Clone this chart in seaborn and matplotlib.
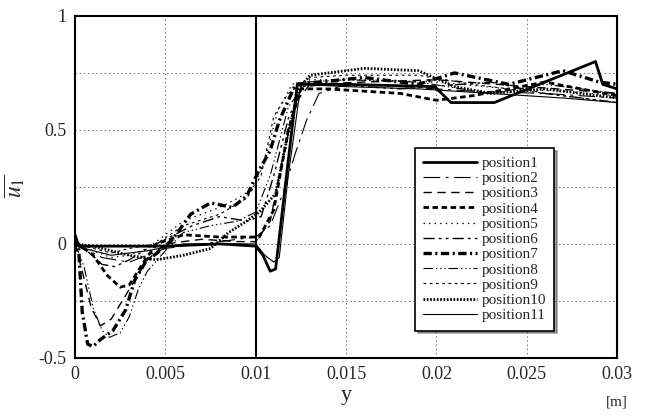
import numpy as np
import pandas as pd
import seaborn as sns
import matplotlib
matplotlib.use("Agg")
from matplotlib import pyplot as plt

# values (y in m, u1 normalised)
x1 = [0, 0.0002, 0.001, 0.003, 0.005, 0.008, 0.0100, 0.0104, 0.0108, 0.0111, 0.0117, 0.0123, 0.015, 0.0199, 0.0208, 0.0232, 0.0288, 0.0292, 0.03]
y1 = [0.04, -0.01, -0.01, -0.01, -0.01, 0.0, -0.01, -0.05, -0.12, -0.11, 0.30, 0.70, 0.70, 0.69, 0.62, 0.62, 0.80, 0.70, 0.68]

x2 = [0, 0.0005, 0.0015, 0.003, 0.005, 0.007, 0.009, 0.010, 0.0108, 0.0115, 0.0122, 0.0128, 0.0135, 0.015, 0.018, 0.022, 0.026, 0.03]
y2 = [0.02, -0.02, -0.06, -0.08, -0.02, 0.0, 0.02, 0.03, 0.08, 0.22, 0.40, 0.54, 0.66, 0.70, 0.69, 0.67, 0.66, 0.64]

x3 = [0, 0.0004, 0.0009, 0.0014, 0.002, 0.003, 0.004, 0.005, 0.007, 0.009, 0.010, 0.0108, 0.0115, 0.0122, 0.013, 0.016, 0.020, 0.025, 0.03]
y3 = [0.0, -0.12, -0.28, -0.36, -0.33, -0.2, -0.07, 0.0, 0.02, 0.01, 0.01, 0.1, 0.38, 0.62, 0.70, 0.71, 0.72, 0.69, 0.66]

x4 = [0, 0.0005, 0.001, 0.0018, 0.0025, 0.003, 0.0038, 0.0045, 0.006, 0.008, 0.0095, 0.0102, 0.011, 0.0118, 0.0125, 0.014, 0.018, 0.020, 0.022, 0.026, 0.028, 0.03]
y4 = [0.0, -0.02, -0.05, -0.14, -0.19, -0.18, -0.08, 0.0, 0.04, 0.03, 0.03, 0.03, 0.15, 0.5, 0.68, 0.68, 0.66, 0.63, 0.65, 0.71, 0.68, 0.65]

x5 = [0, 0.001, 0.002, 0.003, 0.004, 0.005, 0.006, 0.007, 0.008, 0.009, 0.0098, 0.0105, 0.0112, 0.012, 0.013, 0.016, 0.020, 0.024, 0.027, 0.03]
y5 = [0.0, -0.03, -0.06, -0.05, -0.02, 0.04, 0.10, 0.13, 0.16, 0.2, 0.24, 0.36, 0.58, 0.70, 0.72, 0.72, 0.71, 0.68, 0.67, 0.65]

x6 = [0, 0.0008, 0.0015, 0.0022, 0.003, 0.004, 0.005, 0.0065, 0.008, 0.0095, 0.0103, 0.011, 0.0118, 0.0126, 0.014, 0.018, 0.023, 0.026, 0.03]
y6 = [0.0, -0.04, -0.09, -0.1, -0.07, -0.02, 0.02, 0.08, 0.12, 0.1, 0.12, 0.3, 0.55, 0.69, 0.70, 0.68, 0.71, 0.66, 0.62]

x7 = [0, 0.0002, 0.0004, 0.0007, 0.001, 0.0014, 0.0021, 0.0028, 0.0033, 0.0039, 0.0047, 0.0054, 0.0064, 0.0075, 0.0087, 0.0095, 0.0101, 0.0108, 0.0113, 0.0122, 0.016, 0.019, 0.021, 0.024, 0.027, 0.029, 0.03]
y7 = [0.03, -0.02, -0.3, -0.44, -0.45, -0.42, -0.38, -0.29, -0.16, -0.08, -0.03, 0.02, 0.13, 0.18, 0.16, 0.21, 0.31, 0.41, 0.54, 0.70, 0.73, 0.70, 0.75, 0.70, 0.76, 0.71, 0.70]

x8 = [0, 0.0005, 0.001, 0.0015, 0.0019, 0.0025, 0.003, 0.0035, 0.004, 0.005, 0.006, 0.0075, 0.009, 0.010, 0.0108, 0.0118, 0.0128, 0.015, 0.019, 0.023, 0.026, 0.03]
y8 = [0.0, -0.1, -0.28, -0.38, -0.41, -0.39, -0.32, -0.2, -0.12, -0.03, 0.05, 0.08, 0.1, 0.14, 0.3, 0.6, 0.71, 0.72, 0.71, 0.66, 0.70, 0.66]

x9 = [0, 0.001, 0.002, 0.003, 0.0045, 0.006, 0.008, 0.0095, 0.0103, 0.011, 0.0118, 0.013, 0.015, 0.019, 0.022, 0.026, 0.03]
y9 = [0.0, -0.02, -0.04, -0.02, 0.0, 0.08, 0.13, 0.2, 0.3, 0.56, 0.66, 0.73, 0.74, 0.74, 0.70, 0.66, 0.62]

x10 = [0, 0.001, 0.002, 0.003, 0.0045, 0.006, 0.0075, 0.0085, 0.0095, 0.0102, 0.0111, 0.0118, 0.0124, 0.013, 0.016, 0.019, 0.021, 0.023, 0.026, 0.03]
y10 = [0.0, -0.01, -0.03, -0.05, -0.07, -0.05, -0.02, 0.05, 0.10, 0.14, 0.22, 0.49, 0.68, 0.74, 0.77, 0.76, 0.69, 0.66, 0.68, 0.64]

x11 = [0, 0.0005, 0.002, 0.004, 0.006, 0.008, 0.0100, 0.0105, 0.011, 0.0113, 0.0118, 0.0125, 0.015, 0.019, 0.023, 0.027, 0.03]
y11 = [0.02, -0.02, -0.05, -0.03, 0.0, 0.0, 0.0, -0.05, -0.08, -0.06, 0.3, 0.70, 0.69, 0.68, 0.66, 0.64, 0.62]

labels = ["position" + str(i) for i in range(1, 12)]
xs = [x1, x2, x3, x4, x5, x6, x7, x8, x9, x10, x11]
ys = [y1, y2, y3, y4, y5, y6, y7, y8, y9, y10, y11]

xtick_vals = [0, 0.005, 0.01, 0.015, 0.02, 0.025, 0.03]
xtick_labels = ["0", "0.005", "0.01", "0.015", "0.02", "0.025", "0.03"]
ytick_vals = [-0.5, 0, 0.5, 1]
ytick_labels = ["-0.5", "0", "0.5", "1"]
ygrid_minor = [-0.25, 0.25, 0.75]

# line styles to imitate the print
styles = [
    ("-", 2.0),
    ((0, (12, 4, 2, 4)), 0.8),
    ((0, (6, 4)), 1.0),
    ((0, (4, 2.5)), 2.0),
    ((0, (1, 3)), 0.9),
    ((0, (8, 3, 2, 3, 2, 3)), 1.0),
    ((0, (6, 2.5, 1.5, 2.5)), 2.4),
    ((0, (7, 2, 1, 2, 1, 2, 1, 2)), 0.8),
    ((0, (2, 2.5)), 0.8),
    ((0, (1.2, 1.2)), 2.0),
    ("-", 0.8),
]

sns.set_style("white")
plt.rcParams['font.family'] = ['Liberation Serif', 'DejaVu Serif']
plt.rcParams['mathtext.fontset'] = 'stix'
plt.rcParams['lines.scale_dashes'] = False

fig = plt.figure(figsize=(6.49, 4.2), dpi=100)
ax = fig.add_axes([0.1156, 0.148, 0.8354, 0.814])

for xv, yv, lab, (ls, lw) in zip(xs, ys, labels, styles):
    df = pd.DataFrame({'y': xv, 'u1': yv})
    sns.lineplot(data=df, x='y', y='u1', ax=ax, color='black', linestyle=ls,
                 linewidth=lw, label=lab, sort=False, estimator=None)

ax.axvline(0.01, color='black', lw=1.5)

ax.set_xlim(0, 0.03)
ax.set_ylim(-0.5, 1)
ax.set_xticks(xtick_vals, xtick_labels)
ax.set_yticks(ytick_vals, ytick_labels)
ax.set_yticks(ygrid_minor, minor=True)
ax.grid(True, which='both', linestyle=(0, (1, 2)), color='#555555', lw=0.6)
ax.tick_params(axis='both', which='both', length=0, labelsize=13, pad=6)
for s in ax.spines.values():
    s.set_color('black')
    s.set_linewidth(1.5)

ax.set_xlabel("y", fontsize=16, labelpad=2)
ax.set_ylabel(r"$\overline{u_1}$", fontsize=17, labelpad=8)
fig.text(0.951, 0.035, "[m]", fontsize=11, ha='center')

leg = ax.legend(loc='upper left', bbox_to_anchor=(0.627, 0.614), fontsize=11,
                frameon=True, fancybox=False, shadow=True, handlelength=3.5,
                labelspacing=0.1, borderpad=0.55, handletextpad=0.3,
                borderaxespad=0)
leg.get_frame().set_edgecolor('black')
leg.get_frame().set_linewidth(1.2)

plt.savefig("out.png", dpi=100)
